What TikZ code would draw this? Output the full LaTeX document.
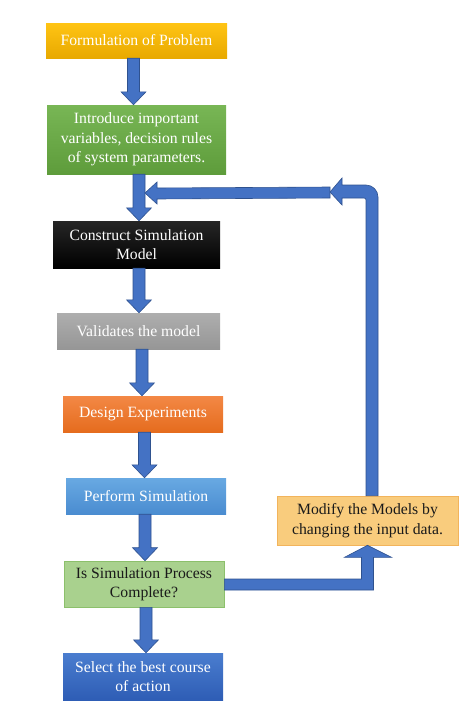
\documentclass[tikz,border=0pt]{standalone}
\usepackage{fontspec}
\setmainfont{Liberation Serif}
\usetikzlibrary{calc}
\definecolor{ablue}{HTML}{4472C4}
\definecolor{adark}{HTML}{2F528F}
\definecolor{yelT}{HTML}{FFC414}
\definecolor{yelB}{HTML}{E8A900}
\definecolor{grnT}{HTML}{78B655}
\definecolor{grnB}{HTML}{5E9C3B}
\definecolor{blkT}{HTML}{262626}
\definecolor{blkB}{HTML}{000000}
\definecolor{gryT}{HTML}{AEAEAE}
\definecolor{gryB}{HTML}{969696}
\definecolor{orgT}{HTML}{F38845}
\definecolor{orgB}{HTML}{E56C1E}
\definecolor{lblT}{HTML}{68A9E2}
\definecolor{lblB}{HTML}{4A8CD0}
\definecolor{lgrn}{HTML}{A9D18E}
\definecolor{lgrnD}{HTML}{8CC06B}
\definecolor{selT}{HTML}{4A7DCF}
\definecolor{selB}{HTML}{2E5DB5}
\definecolor{modF}{HTML}{F9CC7D}
\definecolor{modD}{HTML}{F2B45C}
\definecolor{dtext}{HTML}{1A1A1A}
\newcommand\blkdown[3]{%
  \draw[barrow] (#1-6,0 |- #2.south)
    -- ($(#1-6,0 |- #3.north)+(0,-13)$)
    -- ($(#1-12.5,0 |- #3.north)+(0,-13)$)
    -- (#1,0 |- #3.north)
    -- ($(#1+12.5,0 |- #3.north)+(0,-13)$)
    -- ($(#1+6,0 |- #3.north)+(0,-13)$)
    -- (#1+6,0 |- #2.south) -- cycle;}
\begin{document}
\begin{tikzpicture}[x=1pt,y=-1pt,
  box/.style={rectangle, inner sep=0pt, align=center, text=white,
    font=\fontsize{15.7}{19.5}\selectfont},
  barrow/.style={fill=ablue, draw=adark, line width=0.6pt, line join=miter}]
\useasboundingbox (0,0) rectangle (474,723);
\node[box, minimum width=181pt, minimum height=35pt, top color=yelT, bottom color=yelB, text=white] (f1) at (136.5,40.5) {Formulation of Problem};
\node[box, minimum width=179pt, minimum height=69pt, top color=grnT, bottom color=grnB] (f2) at (136.5,139.5) {Introduce important\\variables, decision rules\\of system parameters.};
\node[box, minimum width=167pt, minimum height=47pt, top color=blkT, bottom color=blkB] (f3) at (136.5,244.5) {Construct Simulation\\Model};
\node[box, minimum width=163pt, minimum height=36pt, top color=gryT, bottom color=gryB] (f4) at (138.5,331) {Validates the model};
\node[box, minimum width=160pt, minimum height=36pt, top color=orgT, bottom color=orgB] (f5) at (143,414) {Design Experiments};
\node[box, minimum width=160pt, minimum height=36pt, top color=lblT, bottom color=lblB] (f6) at (146,496) {Perform Simulation};
\node[box, minimum width=160pt, minimum height=46pt, fill=lgrn, draw=lgrnD, line width=0.6pt, text=dtext] (f7) at (144,584) {Is Simulation Process\\Complete?};
\node[box, minimum width=160pt, minimum height=47pt, top color=selT, bottom color=selB] (f8) at (143,676.5) {Select the best course\\of action};
\node[box, minimum width=181pt, minimum height=49pt, fill=modF, draw=modD, line width=0.6pt, text=dtext] (mod) at (367.5,520.5) {Modify the Models by\\changing the input data.};
% vertical arrows
\blkdown{133.5}{f1}{f2}
\blkdown{139}{f2}{f3}
\blkdown{139}{f3}{f4}
\blkdown{142}{f4}{f5}
\blkdown{144.5}{f5}{f6}
\blkdown{145}{f6}{f7}
\blkdown{146}{f7}{f8}
% decision to modify
\coordinate (ml) at ($(mod.south)+(-6,0)$);
\coordinate (mr) at ($(mod.south)+(6,0)$);
\coordinate (e1) at ($(f7.east)+(0,-5)$);
\coordinate (e2) at ($(f7.east)+(0,6)$);
\draw[barrow] (e1) -- (ml |- e1)
  -- ($(mod.south)+(-6,12)$) -- ($(mod.south)+(-23,12)$) -- (mod.south)
  -- ($(mod.south)+(24,12)$) -- ($(mod.south)+(6,12)$)
  -- (mr |- e2) -- (e2) -- cycle;
% feedback
\coordinate (fb) at (330,192);
\coordinate (join) at (145,193);
\coordinate (up) at (mod.north |- fb);
\draw[barrow] ($(mod.north)+(-1.5,0)$) -- ($(up)+(-1.5,8)$)
  arc[start angle=0, end angle=-90, radius=2] -- ($(fb)+(12,6)$) -- ($(fb)+(12,13)$)
  -- (fb) -- ($(fb)+(12,-14)$) -- ($(fb)+(12,-7)$)
  -- ($(up)+(-1.5,-7)$)
  arc[start angle=-90, end angle=0, radius=12] -- ($(mod.north)+(10.5,0)$) -- cycle;
\draw[barrow] ($(fb)+(0,-5)$) -- ($(join)+(12,-5)$) -- ($(join)+(12,-11)$) -- (join)
  -- ($(join)+(12,11)$) -- ($(join)+(12,6)$) -- ($(fb)+(0,6)$) -- cycle;
\end{tikzpicture}
\end{document}
